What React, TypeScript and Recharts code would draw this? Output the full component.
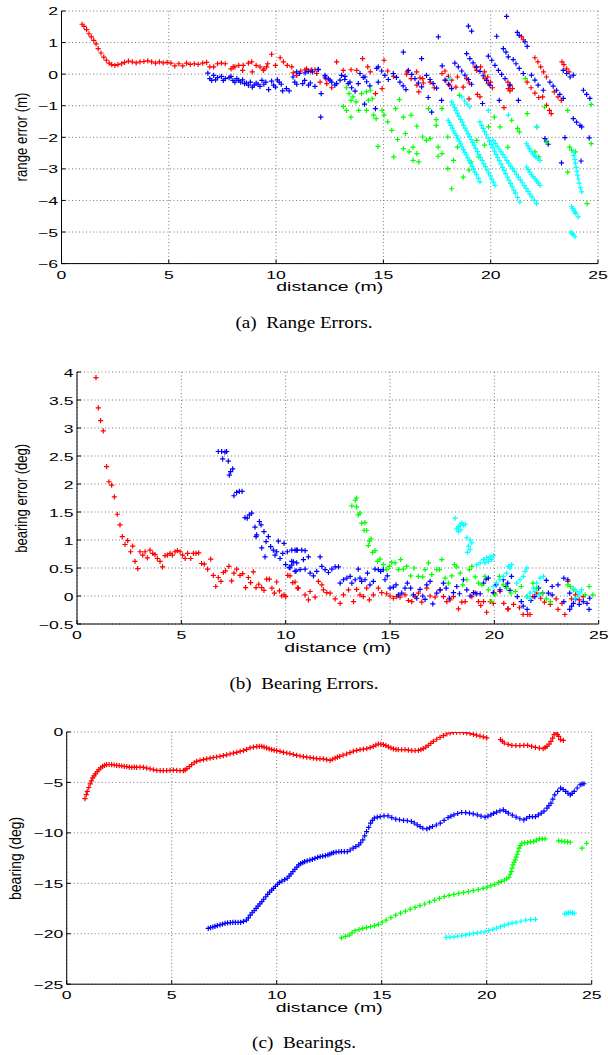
import React from "react";
import { CartesianGrid, Scatter, ScatterChart, XAxis, YAxis } from "recharts";

type Pt = [number, number];

// axis ticks
const distanceTicks = [0, 5, 10, 15, 20, 25];
const rangeTicks = [-6, -5, -4, -3, -2, -1, 0, 1, 2];
const bearingErrTicks = [-0.5, 0, 0.5, 1, 1.5, 2, 2.5, 3, 3.5, 4];
const bearingTicks = [-25, -20, -15, -10, -5, 0];

// (a) range error (m) vs distance (m)
const rangeRed: Pt[] = [
  [0.96, 1.58], [1.05, 1.51], [1.17, 1.41], [1.28, 1.28], [1.39, 1.18], [1.5, 1.07], [1.61, 0.96], [1.71, 0.81],
  [1.84, 0.67], [1.97, 0.54], [2.09, 0.44], [2.22, 0.35], [2.34, 0.3], [2.49, 0.28], [2.63, 0.3], [2.8, 0.33],
  [2.94, 0.37], [3.12, 0.41], [3.3, 0.39], [3.48, 0.36], [3.66, 0.39], [3.84, 0.4], [4.02, 0.42], [4.2, 0.39],
  [4.38, 0.35], [4.56, 0.39], [4.74, 0.36], [4.92, 0.37], [5.1, 0.35], [5.28, 0.26], [5.47, 0.33], [5.65, 0.26],
  [5.83, 0.35], [6.0, 0.31], [6.19, 0.33], [6.37, 0.31], [6.58, 0.35], [6.76, 0.37], [6.91, 0.23], [7.09, 0.23],
  [7.27, 0.33], [7.45, 0.35], [7.63, 0.33], [7.9, 0.17], [8.0, 0.23], [8.08, 0.23], [8.26, 0.28], [8.44, 0.12],
  [8.47, 0.28], [8.71, 0.35], [8.86, 0.39], [8.89, 0.07], [9.07, 0.28], [9.25, 0.23], [9.41, 0.12], [9.43, 0.17],
  [9.56, 0.23], [9.61, 0.33], [9.79, 0.63], [9.97, 0.28], [10.19, 0.52], [10.34, 0.39], [10.52, 0.28], [10.73, 0.23],
  [10.8, 0.04], [10.96, -0.04], [11.15, 0.1], [11.35, 0.14], [11.42, 0.17], [11.6, 0.1], [11.66, 0.14], [11.81, 0.14],
  [11.89, 0.02], [12.05, -0.25], [12.32, -0.14], [12.36, -0.3], [12.59, -0.43], [12.82, 0.39], [13.13, 0.12],
  [13.49, 0.14], [13.76, 0.12], [14.03, 0.49], [14.27, 0.23], [14.39, 0.07], [14.63, -0.62], [14.94, -0.46],
  [15.03, 0.44], [15.2, 0.1], [15.48, -0.07], [16.08, 0.0], [16.11, 0.07], [16.29, -0.14], [16.55, 0.07],
  [16.56, -0.35], [16.65, -0.56], [16.71, -0.12], [16.83, -0.14], [16.86, -0.28], [17.18, -0.25], [17.37, -0.43],
  [17.73, 0.02], [17.87, 0.1], [17.91, -0.2], [18.03, -0.07], [18.09, -0.35], [18.18, -0.19], [18.38, -0.41],
  [18.45, -0.09], [18.72, -0.41], [18.88, -0.14], [18.99, -0.78], [19.0, -0.28], [19.27, 0.23], [19.35, 0.12],
  [19.38, -0.64], [19.5, -0.72], [19.53, 0.23], [19.71, 0.07], [19.73, -0.14], [19.86, -0.09], [19.89, -0.3],
  [19.99, -0.25], [20.08, -0.43], [20.62, -1.06], [20.8, -0.25], [20.82, -0.46], [20.89, -0.35], [20.9, -0.53],
  [21.01, -0.46], [21.44, 1.18], [21.52, 1.09], [21.7, -0.25], [21.88, -0.43], [22.06, -0.6], [22.24, -0.74],
  [22.06, 0.52], [22.2, 0.39], [22.33, 0.23], [22.46, 0.07], [22.6, -0.09], [22.42, -0.72], [22.6, -0.99],
  [22.74, -1.15], [22.82, -1.25], [22.96, -0.56], [23.14, -0.72], [23.29, -0.83], [23.32, 0.39], [23.41, 0.3],
  [23.54, 0.17], [23.65, 0.07],
];

const rangeBlue: Pt[] = [
  [6.82, 0.03], [6.91, -0.14], [7.0, -0.2], [7.09, -0.04], [7.18, -0.18], [7.27, -0.11], [7.45, -0.07], [7.54, -0.2],
  [7.63, -0.14], [7.81, -0.11], [7.9, -0.07], [7.99, -0.2], [8.08, -0.25], [8.17, -0.14], [8.26, -0.2], [8.35, -0.25],
  [8.44, -0.18], [8.53, -0.3], [8.62, -0.28], [8.71, -0.35], [8.8, -0.25], [8.89, -0.41], [8.98, -0.35], [9.07, -0.28],
  [9.16, -0.32], [9.25, -0.39], [9.34, -0.2], [9.43, -0.32], [9.52, -0.25], [9.65, -0.49], [9.79, -0.22],
  [9.88, -0.35], [9.97, -0.41], [10.06, -0.18], [10.15, -0.25], [10.24, -0.32], [10.3, -0.53], [10.48, -0.46],
  [10.61, -0.53], [10.79, -0.09], [10.87, -0.25], [10.96, 0.07], [10.96, -0.32], [11.09, 0.02], [11.24, -0.3],
  [11.33, -0.2], [11.35, 0.04], [11.5, 0.09], [11.51, -0.35], [11.6, -0.28], [11.69, 0.07], [11.81, -0.39],
  [11.96, 0.14], [11.97, 0.15], [12.1, -0.62], [12.08, -1.36], [12.28, -0.04], [12.28, -0.09], [12.44, -0.15],
  [12.51, -0.19], [12.59, -0.25], [12.74, -0.35], [12.82, -0.3], [12.98, -0.19], [13.05, -0.04], [13.2, -0.17],
  [13.21, -0.07], [13.36, -0.3], [13.44, -0.25], [13.52, -0.43], [13.68, -0.54], [13.83, -0.3], [13.91, 0.02],
  [14.06, -0.1], [14.12, -0.95], [14.14, -0.09], [14.22, -0.24], [14.37, -0.37], [14.63, -1.09], [14.69, 0.18],
  [14.76, 0.23], [14.76, -0.25], [14.92, 0.1], [15.07, -0.04], [15.23, -0.17], [15.46, 0.02], [15.61, -0.1],
  [15.77, -0.25], [15.92, -0.37], [15.93, 0.7], [16.05, -0.49], [16.16, 0.12], [16.32, -0.01], [16.47, -0.14],
  [16.63, -0.28], [16.78, -0.4], [16.78, 0.49], [17.01, -0.04], [17.09, -0.74], [17.17, -0.17], [17.25, -1.2],
  [17.32, -0.3], [17.48, -0.44], [17.56, 1.18], [17.71, -0.83], [17.74, 0.26], [17.87, -0.19], [18.03, -0.32],
  [18.18, -0.46], [18.33, 0.35], [18.49, 0.23], [18.65, 0.1], [18.8, -0.03], [18.88, 0.65], [18.96, -0.17],
  [18.96, 1.52], [19.03, 0.49], [19.11, -0.32], [19.11, 1.36], [19.18, 0.36], [19.34, 0.22], [19.5, 0.09],
  [19.62, -0.93], [19.65, -0.05], [19.81, -0.2], [19.89, 0.57], [19.97, -0.35], [20.05, 0.44], [20.2, 0.28],
  [20.28, 1.2], [20.36, 0.12], [20.4, -0.83], [20.51, -0.01], [20.59, 0.81], [20.67, -0.14], [20.71, 0.7],
  [20.74, 1.83], [20.82, 0.55], [20.9, -0.35], [21.05, 0.46], [21.18, 0.33], [21.24, 1.32], [21.29, -0.83],
  [21.33, 0.18], [21.33, 1.23], [21.52, 0.02], [21.6, 1.02], [21.7, 0.88], [21.9, -0.03], [22.06, -0.19],
  [22.21, -0.35], [22.45, -0.51], [22.53, -2.04], [22.6, -2.13], [22.68, -2.22], [22.76, -0.25], [22.91, -0.38],
  [23.07, -0.51], [23.22, -0.64], [23.3, -2.81], [23.38, -0.77], [23.38, 0.12], [23.46, -2.01], [23.54, 0.02],
  [23.7, -0.09], [23.85, -0.03], [23.85, -1.41], [24.0, -1.52], [24.16, -1.62], [24.21, -2.75], [24.24, -1.67],
  [24.32, -0.51], [24.47, -0.64], [24.59, -2.02], [24.62, -0.77],
];

const rangeGreen: Pt[] = [
  [13.28, -0.43], [13.4, -0.62], [13.49, -0.83], [13.58, -0.72], [13.13, -1.02], [13.28, -1.15], [13.49, -1.36],
  [13.73, -0.88], [13.85, -1.15], [13.98, -0.62], [14.21, -0.56], [14.3, -0.83], [14.39, -0.51], [14.48, -0.78],
  [14.21, -1.15], [14.54, -1.3], [14.66, -1.41], [14.75, -2.29], [14.94, -1.15], [15.03, -1.3], [15.2, -1.51],
  [15.57, -1.09], [15.75, -0.81], [15.93, -1.36], [15.39, -1.78], [15.66, -2.07], [15.93, -2.36], [15.48, -2.62],
  [16.29, -1.3], [16.02, -1.88], [16.2, -2.46], [16.38, -2.31], [16.56, -2.52], [16.38, -2.73], [16.65, -2.78],
  [16.56, -1.65], [16.83, -1.99], [17.0, -2.1], [17.18, -2.04], [17.1, -1.09], [17.46, -1.44], [17.46, -1.62],
  [17.73, -1.09], [17.55, -2.31], [17.73, -2.52], [17.55, -2.6], [18.0, -1.99], [18.0, -2.99], [18.18, -3.63],
  [18.27, -2.73], [18.45, -2.31], [18.72, -3.26], [18.54, -0.67], [18.99, -3.04], [19.08, -2.78], [19.35, -2.1],
  [19.44, -2.62], [19.71, -2.25], [19.9, -1.67], [20.17, -1.36], [20.44, -1.67], [20.8, -2.31], [20.98, -1.46],
  [21.25, -1.72], [21.34, -1.83], [21.61, -0.14], [21.7, -1.25], [22.06, -2.46], [22.15, -1.67], [22.24, -2.62],
  [22.51, -1.04], [22.6, -2.15], [23.59, -1.15], [23.59, -3.1], [23.68, -2.31], [23.77, -2.41], [23.95, -2.46],
  [24.49, -4.1], [24.68, -0.96], [24.68, -2.2],
];

const rangeCyan: Pt[] = [
  [18.02, -1.46], [18.08, -1.54], [18.15, -1.62], [18.21, -1.71], [18.28, -1.8], [18.34, -1.88], [18.4, -1.95],
  [18.47, -2.04], [18.53, -2.12], [18.6, -2.21], [18.66, -2.3], [18.73, -2.39], [18.8, -2.48], [18.86, -2.56],
  [18.93, -2.65], [19.0, -2.74], [19.06, -2.83], [19.13, -2.92], [19.2, -3.01], [19.26, -3.1], [19.33, -3.18],
  [19.42, -3.3], [19.5, -3.41],
  [18.18, -0.88], [18.25, -0.97], [18.32, -1.06], [18.38, -1.15], [18.45, -1.24], [18.52, -1.33], [18.6, -1.43],
  [18.67, -1.52], [18.74, -1.62], [18.81, -1.71], [18.88, -1.8], [18.95, -1.89], [19.02, -1.98], [19.09, -2.07],
  [19.16, -2.16], [19.23, -2.25], [19.3, -2.35], [19.38, -2.45], [19.45, -2.55], [19.52, -2.64], [19.6, -2.74],
  [19.68, -2.84], [19.75, -2.93], [19.82, -3.03], [19.9, -3.13], [19.98, -3.22], [20.05, -3.32], [20.12, -3.42],
  [20.2, -3.52],
  [18.65, -0.72], [18.78, -0.85], [18.9, -0.95], [19.03, -1.04], [18.09, -0.14],
  [19.5, -1.51], [19.58, -1.62], [19.65, -1.72], [19.72, -1.82], [19.8, -1.92], [19.88, -2.03], [19.95, -2.13],
  [20.02, -2.23], [20.1, -2.33], [20.18, -2.44], [20.25, -2.54], [20.32, -2.64], [20.4, -2.74], [20.48, -2.85],
  [20.55, -2.95], [20.62, -3.05], [20.7, -3.15], [20.78, -3.26], [20.85, -3.36], [20.92, -3.46], [21.0, -3.56],
  [21.08, -3.67], [21.15, -3.77], [21.25, -3.9], [21.36, -4.05],
  [20.12, -2.1], [20.21, -2.19], [20.3, -2.28], [20.39, -2.37], [20.48, -2.46], [20.57, -2.55], [20.66, -2.64],
  [20.75, -2.73], [20.84, -2.82], [20.93, -2.91], [21.02, -3.0], [21.11, -3.08], [21.2, -3.17], [21.29, -3.26],
  [21.38, -3.35], [21.47, -3.44], [21.56, -3.53], [21.65, -3.62], [21.74, -3.71], [21.83, -3.8], [21.92, -3.89],
  [22.03, -4.0], [22.14, -4.1],
  [19.89, -1.15], [20.82, -1.3], [22.14, -1.67],
  [21.67, -2.2], [21.74, -2.28], [21.8, -2.36], [21.88, -2.44], [21.95, -2.52], [22.03, -2.57], [22.1, -2.62],
  [22.2, -2.68], [22.3, -2.73],
  [21.67, -2.94], [21.75, -3.02], [21.82, -3.1], [21.9, -3.18], [21.98, -3.25], [22.06, -3.31], [22.14, -3.38],
  [22.22, -3.45], [22.3, -3.52],
  [23.85, -2.46], [23.88, -2.58], [23.92, -2.7], [23.95, -2.82], [23.98, -2.95], [24.02, -3.08], [24.05, -3.2],
  [24.08, -3.32], [24.12, -3.45], [24.18, -3.6], [24.24, -3.73],
  [23.77, -4.2], [23.83, -4.26], [23.88, -4.32], [23.93, -4.37], [23.97, -4.42], [24.08, -4.52],
  [23.74, -5.0], [23.79, -5.04], [23.84, -5.08], [23.93, -5.15],
];

// (b) bearing error (deg) vs distance (m)
const bearErrRed: Pt[] = [
  [0.91, 3.9], [1.02, 3.36], [1.13, 3.13], [1.26, 2.95], [1.42, 2.31], [1.53, 2.04], [1.66, 1.98], [1.79, 1.77],
  [1.93, 1.46], [2.06, 1.27], [2.17, 1.06], [2.3, 0.92], [2.43, 0.99], [2.57, 0.79], [2.67, 0.89], [2.78, 0.62],
  [2.91, 0.49], [3.02, 0.79], [3.15, 0.73], [3.26, 0.79], [3.37, 0.68], [3.5, 0.82], [3.63, 0.76], [3.74, 0.74],
  [3.85, 0.67], [3.98, 0.62], [4.1, 0.52], [4.22, 0.72], [4.33, 0.73], [4.46, 0.76], [4.57, 0.73], [4.7, 0.79],
  [4.81, 0.81], [4.94, 0.79], [5.06, 0.73], [5.18, 0.67], [5.3, 0.76], [5.45, 0.67], [5.58, 0.76], [5.7, 0.76],
  [5.83, 0.77], [5.97, 0.58], [6.1, 0.57], [6.26, 0.48], [6.41, 0.66], [6.53, 0.37], [6.65, 0.17], [6.77, 0.33],
  [6.9, 0.26], [7.01, 0.42], [7.12, 0.45], [7.28, 0.53], [7.41, 0.27], [7.52, 0.41], [7.65, 0.48], [7.81, 0.37],
  [7.94, 0.4], [8.08, 0.15], [8.21, 0.33], [8.32, 0.24], [8.45, 0.43], [8.58, 0.15], [8.71, 0.21], [8.85, 0.15],
  [8.96, 0.1], [9.09, 0.3], [9.22, 0.3], [9.34, 0.14], [9.46, 0.05], [9.57, 0.25], [9.7, 0.09], [9.81, 0.0],
  [9.92, 0.02], [10.0, -0.01], [10.1, 0.37], [10.21, 0.36], [10.34, 0.24], [10.45, 0.25], [10.56, 0.14],
  [10.61, 0.14], [10.93, 0.02], [11.09, -0.07], [11.17, 0.08], [11.41, -0.02], [11.57, 0.26], [11.73, 0.2],
  [11.81, 0.11], [11.97, 0.06], [12.13, 0.05], [12.37, -0.05], [12.61, -0.13], [12.77, 0.02], [13.01, 0.11],
  [13.25, -0.1], [13.4, 0.12], [13.56, 0.02], [13.72, -0.01], [13.88, 0.14], [14.01, -0.07], [14.2, 0.02],
  [14.44, 0.14], [14.6, 0.06], [14.84, 0.04], [15.0, 0.0], [15.16, -0.04], [15.32, -0.01], [15.48, -0.02],
  [15.72, 0.02], [15.88, -0.08], [16.04, -0.1], [16.2, -0.01], [16.36, 0.05], [16.52, -0.11], [16.76, 0.14],
  [16.92, 0.0], [17.16, -0.02], [17.4, 0.11], [17.56, -0.01], [17.72, -0.1], [17.88, -0.07], [18.04, -0.01],
  [18.28, -0.23], [18.44, -0.11], [18.6, -0.1], [18.92, -0.01], [19.08, 0.05], [19.24, -0.1], [19.35, -0.17],
  [19.48, -0.1], [19.63, -0.29], [19.8, -0.1], [19.95, -0.13], [19.99, 0.05], [20.27, 0.08], [20.45, -0.13],
  [20.64, -0.23], [20.67, -0.23], [20.92, -0.15], [21.2, -0.21], [21.38, -0.33], [21.6, -0.33], [21.71, -0.33],
  [21.85, -0.01], [22.03, 0.05], [22.22, -0.04], [22.4, -0.11], [22.68, -0.15], [22.96, -0.05], [23.05, -0.24],
  [23.24, -0.13], [23.38, -0.33], [23.52, 0.26], [23.7, -0.05], [23.89, 0.02], [24.07, -0.07], [24.26, -0.01],
];

const bearErrBlue: Pt[] = [
  [6.77, 2.58], [6.93, 2.58], [7.09, 2.57], [7.17, 2.58], [6.98, 2.45], [7.25, 2.41], [7.36, 2.22], [7.46, 2.27],
  [7.3, 2.16], [7.52, 1.79], [7.65, 1.85], [7.78, 1.87], [7.91, 1.87], [8.05, 1.4], [8.16, 1.39], [8.26, 1.45],
  [8.37, 1.48], [8.53, 1.23], [8.61, 1.09], [8.74, 1.33], [8.82, 1.27], [8.58, 1.06], [8.85, 0.86], [8.96, 1.15],
  [9.06, 0.97], [9.01, 0.7], [9.17, 1.06], [9.28, 0.88], [9.41, 0.82], [9.49, 0.73], [9.57, 0.79], [9.65, 0.98],
  [9.73, 0.67], [9.86, 0.76], [9.92, 0.94], [10.0, 0.56], [10.08, 0.79], [10.17, 0.51], [10.29, 0.55],
  [10.37, 0.61], [10.5, 0.45], [10.56, 0.82], [10.45, 0.82], [10.29, 0.82], [10.53, 0.82], [10.77, 0.82],
  [10.93, 0.81], [10.29, 0.62], [10.53, 0.59], [10.85, 0.65], [11.09, 0.7], [10.21, 0.5], [10.45, 0.44],
  [10.69, 0.47], [10.93, 0.48], [11.17, 0.41], [11.33, 0.36], [11.49, 0.44], [11.65, 0.7], [11.73, 0.53],
  [11.89, 0.47], [12.05, 0.42], [12.21, 0.48], [12.37, 0.52], [12.53, 0.52], [12.61, 0.23], [12.77, 0.29],
  [12.93, 0.32], [13.09, 0.35], [13.17, 0.23], [13.33, 0.29], [13.48, 0.48], [13.56, 0.32], [13.64, 0.26],
  [13.8, 0.29], [13.92, 0.41], [14.04, 0.2], [14.2, 0.26], [14.28, 0.48], [14.44, 0.47], [14.55, 0.44],
  [14.68, 0.47], [14.76, 0.29], [14.87, 0.36], [15.0, 0.14], [15.16, 0.16], [15.29, 0.2], [15.4, 0.02],
  [15.56, 0.05], [15.72, 0.14], [15.83, 0.23], [15.99, 0.14], [16.12, 0.02], [16.28, -0.04], [16.44, 0.12],
  [16.57, 0.0], [16.68, -0.06], [16.76, 0.2], [16.92, 0.26], [17.05, -0.14], [17.24, 0.05], [17.4, 0.11],
  [17.56, 0.23], [17.69, 0.14], [17.85, -0.04], [18.04, 0.06], [18.2, 0.17], [18.33, 0.04], [18.52, 0.29],
  [18.68, 0.11], [18.84, 0.0], [19.0, 0.06], [19.16, 0.04], [19.32, 0.04], [19.48, 0.23], [19.6, 0.3],
  [19.71, 0.32], [19.95, 0.06], [20.08, 0.2], [20.27, 0.11], [20.43, 0.29], [20.56, 0.17], [20.75, 0.1],
  [20.64, 0.23], [20.82, 0.35], [21.1, -0.01], [21.29, -0.1], [21.38, -0.18], [21.57, -0.24], [21.75, -0.08],
  [21.94, -0.01], [22.12, 0.14], [22.31, 0.05], [22.49, 0.28], [22.59, 0.05], [22.77, 0.17], [22.77, 0.02],
  [23.05, 0.2], [23.33, 0.32], [23.33, -0.1], [23.52, 0.29], [23.61, 0.05], [23.61, -0.24], [23.7, -0.18],
  [23.79, -0.13], [23.89, -0.05], [24.07, -0.15], [24.26, -0.1], [24.44, -0.13], [24.54, -0.24], [24.57, -0.04],
];

const bearErrGreen: Pt[] = [
  [13.17, 1.61], [13.33, 1.71], [13.4, 1.75], [13.4, 1.59], [13.48, 1.45], [13.56, 1.48], [13.64, 1.3],
  [13.8, 1.31], [13.76, 1.17], [13.88, 1.17], [14.01, 0.98], [14.09, 1.02], [13.96, 0.9], [14.17, 0.78],
  [14.28, 0.81], [14.4, 0.62], [14.52, 0.66], [14.68, 0.56], [14.84, 0.47], [14.97, 0.53], [15.08, 0.6],
  [15.24, 0.59], [15.4, 0.47], [15.51, 0.65], [15.64, 0.48], [15.8, 0.53], [15.99, 0.36], [16.15, 0.5],
  [16.36, 0.35], [16.57, 0.34], [16.68, 0.47], [16.84, 0.59], [17.0, 0.38], [17.24, 0.47], [17.37, 0.47],
  [17.48, 0.65], [17.64, 0.32], [17.8, 0.23], [17.96, 0.36], [18.09, 0.56], [18.2, 0.52], [18.36, 0.41],
  [18.49, 0.2], [18.68, 0.29], [18.8, 0.47], [18.92, 0.53], [19.08, 0.34], [19.24, 0.23], [19.4, 0.2],
  [19.55, 0.35], [19.71, 0.11], [19.87, -0.1], [20.03, 0.02], [20.24, 0.35], [20.43, 0.2], [20.59, 0.14],
  [20.79, 0.05], [21.01, 0.08], [21.29, 0.17], [21.57, -0.01], [21.85, 0.23], [22.03, 0.14], [22.31, 0.05],
  [22.49, -0.05], [22.68, -0.1], [23.52, 0.2], [23.64, 0.17], [23.79, 0.11], [24.35, 0.02], [24.54, 0.17],
  [24.72, 0.02],
];

const bearErrCyan: Pt[] = [
  [18.12, 1.39], [18.2, 1.2], [18.28, 1.24], [18.36, 1.27], [18.44, 1.3], [18.52, 1.27], [18.6, 1.28],
  [18.28, 1.15], [18.39, 1.18], [18.68, 1.04], [18.84, 1.0], [18.92, 0.95], [18.76, 0.89], [18.84, 0.83],
  [18.71, 0.78], [19.16, 0.56], [19.32, 0.59], [19.48, 0.65], [19.63, 0.68], [19.79, 0.7], [19.95, 0.72],
  [19.87, 0.65], [19.71, 0.62], [19.55, 0.59], [20.11, 0.23], [20.27, 0.29], [20.43, 0.35], [20.59, 0.41],
  [20.75, 0.5], [20.83, 0.56], [19.95, 0.17], [20.67, 0.53], [21.07, 0.23], [21.23, 0.29], [21.39, 0.35],
  [21.47, 0.44], [21.55, 0.5], [21.55, -0.01], [21.71, -0.04], [21.71, 0.05], [21.87, 0.14], [22.03, 0.23],
  [22.19, 0.32], [22.35, 0.35], [21.95, 0.08], [22.15, 0.02], [23.79, 0.14], [23.95, 0.08], [24.1, 0.05],
  [24.02, 0.0], [23.87, -0.04], [24.18, 0.11],
];

// (c) bearing (deg) vs distance (m)
const bearingRed: Pt[] = [
  [0.87, -6.6], [0.93, -6.2], [0.98, -5.88], [1.05, -5.5], [1.12, -5.15], [1.18, -4.85], [1.24, -4.55],
  [1.3, -4.35], [1.37, -4.16], [1.45, -3.93], [1.53, -3.73], [1.62, -3.55], [1.71, -3.4], [1.8, -3.3],
  [1.9, -3.24], [2.02, -3.22], [2.14, -3.24], [2.26, -3.27], [2.38, -3.3], [2.5, -3.34], [2.62, -3.37],
  [2.74, -3.41], [2.86, -3.44], [2.98, -3.48], [3.1, -3.5], [3.22, -3.49], [3.33, -3.5], [3.49, -3.49],
  [3.65, -3.5], [3.81, -3.58], [3.97, -3.66], [4.13, -3.74], [4.29, -3.8], [4.45, -3.82], [4.6, -3.83],
  [4.76, -3.82], [4.92, -3.8], [5.08, -3.78], [5.24, -3.8], [5.4, -3.83], [5.56, -3.83], [5.64, -3.75],
  [5.72, -3.63], [5.84, -3.43], [5.95, -3.24], [6.07, -3.05], [6.19, -2.91], [6.35, -2.82], [6.51, -2.74],
  [6.67, -2.66], [6.83, -2.58], [6.98, -2.53], [7.14, -2.48], [7.3, -2.41], [7.46, -2.34], [7.62, -2.26],
  [7.78, -2.18], [7.94, -2.1], [8.1, -2.01], [8.26, -1.93], [8.41, -1.85], [8.57, -1.72], [8.73, -1.58],
  [8.89, -1.5], [9.05, -1.45], [9.17, -1.42], [9.29, -1.42], [9.4, -1.5], [9.52, -1.58], [9.64, -1.67],
  [9.76, -1.75], [9.88, -1.8], [10.0, -1.85], [10.16, -1.93], [10.32, -2.01], [10.48, -2.08], [10.63, -2.15],
  [10.79, -2.23], [10.95, -2.31], [11.11, -2.38], [11.27, -2.44], [11.43, -2.49], [11.59, -2.54], [11.75, -2.59],
  [11.9, -2.64], [12.06, -2.66], [12.22, -2.67], [12.38, -2.74], [12.54, -2.81], [12.66, -2.7], [12.78, -2.58],
  [12.89, -2.5], [13.0, -2.41], [13.16, -2.3], [13.33, -2.18], [13.49, -2.04], [13.65, -1.91], [13.81, -1.83],
  [13.97, -1.75], [14.13, -1.7], [14.29, -1.65], [14.45, -1.54], [14.6, -1.42], [14.72, -1.3], [14.84, -1.19],
  [14.96, -1.2], [15.08, -1.25], [15.2, -1.36], [15.32, -1.48], [15.44, -1.58], [15.56, -1.68], [15.68, -1.72],
  [15.79, -1.75], [15.95, -1.76], [16.11, -1.75], [16.27, -1.8], [16.43, -1.85], [16.59, -1.85], [16.75, -1.82],
  [16.87, -1.75], [16.98, -1.65], [17.1, -1.5], [17.22, -1.32], [17.34, -1.12], [17.46, -0.92], [17.62, -0.72],
  [17.78, -0.53], [17.94, -0.35], [18.1, -0.2], [18.26, -0.1], [18.41, -0.05], [18.57, -0.02], [18.73, -0.01],
  [18.89, -0.03], [19.05, -0.08], [19.21, -0.15], [19.37, -0.24], [19.52, -0.32], [19.68, -0.4], [19.84, -0.48],
  [20.0, -0.58], [20.66, -0.76], [20.75, -0.92], [20.84, -1.09], [21.02, -1.22], [21.2, -1.32], [21.39, -1.35],
  [21.58, -1.36], [21.77, -1.33], [21.95, -1.32], [22.14, -1.42], [22.32, -1.52], [22.51, -1.6], [22.69, -1.66],
  [22.78, -1.55], [22.87, -1.42], [22.97, -1.2], [23.06, -0.93], [23.14, -0.6], [23.21, -0.26], [23.3, -0.1],
  [23.37, -0.25], [23.43, -0.43], [23.52, -0.76], [23.65, -0.83],
];

const bearingBlue: Pt[] = [
  [6.74, -19.47], [6.85, -19.4], [6.96, -19.33], [7.06, -19.27], [7.17, -19.2], [7.3, -19.12], [7.42, -19.04],
  [7.54, -18.97], [7.66, -18.93], [7.79, -18.9], [7.91, -18.87], [8.03, -18.87], [8.16, -18.88], [8.28, -18.87],
  [8.42, -18.78], [8.56, -18.64], [8.65, -18.42], [8.74, -18.15], [8.83, -17.92], [8.93, -17.7], [9.02, -17.48],
  [9.11, -17.26], [9.2, -17.04], [9.29, -16.82], [9.38, -16.58], [9.48, -16.33], [9.57, -16.09], [9.66, -15.88],
  [9.76, -15.68], [9.85, -15.5], [9.94, -15.3], [10.04, -15.1], [10.13, -14.9], [10.25, -14.78], [10.38, -14.64],
  [10.5, -14.5], [10.59, -14.28], [10.68, -14.06], [10.77, -13.84], [10.86, -13.62], [10.96, -13.4], [11.05, -13.18],
  [11.14, -13.05], [11.24, -12.95], [11.33, -12.85], [11.45, -12.77], [11.58, -12.7], [11.7, -12.62], [11.82, -12.52],
  [11.95, -12.43], [12.07, -12.35], [12.19, -12.3], [12.32, -12.25], [12.44, -12.19], [12.53, -12.1], [12.62, -12.02],
  [12.71, -11.95], [12.83, -11.9], [12.96, -11.87], [13.08, -11.85], [13.22, -11.86], [13.36, -11.85], [13.5, -11.7],
  [13.64, -11.52], [13.77, -11.36], [13.91, -11.19], [14.0, -10.98], [14.1, -10.7], [14.19, -10.3], [14.28, -9.87],
  [14.38, -9.45], [14.47, -9.04], [14.56, -8.76], [14.65, -8.54], [14.79, -8.44], [14.93, -8.38], [15.11, -8.32],
  [15.3, -8.31], [15.48, -8.48], [15.67, -8.64], [15.85, -8.7], [16.04, -8.77], [16.22, -8.8], [16.41, -8.87],
  [16.55, -9.02], [16.69, -9.21], [16.83, -9.38], [16.96, -9.54], [17.15, -9.6], [17.28, -9.5], [17.42, -9.37],
  [17.6, -9.22], [17.79, -9.04], [17.97, -8.77], [18.16, -8.48], [18.3, -8.33], [18.44, -8.21], [18.62, -8.08],
  [18.81, -7.98], [19.0, -8.0], [19.18, -8.05], [19.36, -8.12], [19.55, -8.21], [19.73, -8.33], [19.92, -8.44],
  [20.06, -8.33], [20.2, -8.21], [20.33, -8.07], [20.47, -7.95], [20.63, -7.82], [20.79, -7.72], [20.91, -7.88],
  [21.03, -8.05], [21.22, -8.25], [21.4, -8.44], [21.58, -8.6], [21.77, -8.71], [21.9, -8.55], [22.04, -8.38],
  [22.18, -8.4], [22.32, -8.38], [22.46, -8.22], [22.6, -8.05], [22.73, -7.85], [22.87, -7.55], [22.96, -7.3],
  [23.06, -7.05], [23.15, -6.65], [23.24, -6.23], [23.38, -5.88], [23.52, -5.56], [23.64, -5.7], [23.76, -5.89],
  [23.87, -6.07], [23.98, -6.23], [24.07, -6.08], [24.17, -5.89], [24.31, -5.55], [24.45, -5.23], [24.54, -5.17],
  [24.63, -5.13],
];

const bearingGreen: Pt[] = [
  [13.08, -20.4], [13.27, -20.27], [13.45, -20.13], [13.59, -19.9], [13.73, -19.7], [13.92, -19.58], [14.1, -19.47],
  [14.28, -19.39], [14.47, -19.3], [14.66, -19.19], [14.84, -19.07], [15.03, -18.86], [15.21, -18.64], [15.44, -18.4],
  [15.67, -18.15], [15.9, -17.95], [16.13, -17.75], [16.36, -17.56], [16.59, -17.38], [16.82, -17.22], [17.05, -17.05],
  [17.28, -16.86], [17.52, -16.66], [17.75, -16.49], [17.98, -16.32], [18.21, -16.2], [18.44, -16.09], [18.67, -16.0],
  [18.9, -15.93], [19.13, -15.83], [19.36, -15.73], [19.6, -15.62], [19.83, -15.5], [20.02, -15.38], [20.2, -15.26],
  [20.38, -15.1], [20.57, -14.93], [20.7, -14.8], [20.84, -14.67], [20.95, -14.55], [21.06, -14.4], [21.12, -14.1],
  [21.17, -13.84], [21.21, -13.5], [21.25, -13.18], [21.3, -12.93], [21.36, -12.68], [21.4, -12.4], [21.45, -12.12],
  [21.5, -11.82], [21.54, -11.52], [21.6, -11.27], [21.67, -11.03], [21.81, -10.99], [21.95, -10.96], [22.09, -10.9],
  [22.23, -10.86], [22.37, -10.72], [22.51, -10.6], [22.65, -10.6], [22.78, -10.6], [23.43, -10.79], [23.57, -10.82],
  [23.71, -10.86], [23.85, -10.9], [23.98, -10.93], [24.54, -11.52], [24.76, -11.03],
];

const bearingCyan: Pt[] = [
  [18.07, -20.36], [18.25, -20.33], [18.44, -20.3], [18.62, -20.25], [18.81, -20.2], [19.0, -20.12], [19.18, -20.03],
  [19.37, -19.97], [19.55, -19.9], [19.73, -19.85], [19.92, -19.8], [20.1, -19.68], [20.29, -19.57], [20.47, -19.44],
  [20.66, -19.3], [20.84, -19.17], [21.03, -19.04], [21.21, -18.95], [21.4, -18.87], [21.63, -18.76], [21.86, -18.64],
  [22.09, -18.6], [22.32, -18.58], [23.72, -18.02], [23.8, -17.98], [23.89, -17.92], [23.98, -17.88], [24.08, -17.93],
  [24.17, -17.98],
];

const RED = "#ff0000";
const BLUE = "#0000ff";
const GREEN = "#00ff00";
const CYAN = "#00ffff";
const SANS = "'Liberation Sans', Arial, Helvetica, sans-serif";
const SERIF = "'Liberation Serif', 'Times New Roman', serif";
const STRETCH = 1.6;

type Geo = { left: number; right: number; top: number; bottom: number };
const geoA: Geo = { left: 61.5, right: 598, top: 10.7, bottom: 263.3 };
const geoB: Geo = { left: 77, right: 598.7, top: 372.3, bottom: 624.3 };
const geoC: Geo = { left: 66.7, right: 591.7, top: 732.3, bottom: 984.5 };

const fmt = (v: number) => String(v).replace("-", "\u2212");
const toXY = (pts: Pt[]) => pts.map(([x, y]) => ({ x, y }));

function plus(color: string) {
  return (props: any) => {
    const { cx, cy } = props;
    if (cx == null || cy == null) return <g />;
    return (
      <path
        d={`M${cx - 2.6},${cy}H${cx + 2.6}M${cx},${cy - 2.6}V${cy + 2.6}`}
        stroke={color}
        strokeWidth={1.2}
        fill="none"
      />
    );
  };
}

function XTick(props: any) {
  const { x, y, payload } = props;
  return (
    <g>
      <line x1={x} x2={x} y1={y} y2={y - 4} stroke="#000" />
      <text
        transform={`translate(${x},${y + 15}) scale(${STRETCH},1)`}
        textAnchor="middle"
        fontFamily={SANS}
        fontSize={11}
        fill="#000"
      >
        {fmt(payload.value)}
      </text>
    </g>
  );
}

function YTick(props: any) {
  const { x, y, payload } = props;
  return (
    <g>
      <line x1={x} x2={x + 4} y1={y} y2={y} stroke="#000" />
      <text
        transform={`translate(${x - 3.5},${y + 4.5}) scale(${STRETCH},1)`}
        textAnchor="end"
        fontFamily={SANS}
        fontSize={11}
        fill="#000"
      >
        {fmt(payload.value)}
      </text>
    </g>
  );
}

type Series = { data: Pt[]; color: string };

function Panel({ g, yDomain, yTicks, series }: { g: Geo; yDomain: [number, number]; yTicks: number[]; series: Series[] }) {
  const height = g.bottom - g.top + 52;
  return (
    <div style={{ position: "absolute", left: 0, top: g.top - 12, width: 608, height }}>
      <ScatterChart
        width={608}
        height={height}
        margin={{ top: 12, right: 608 - g.right, bottom: 10, left: g.left - 40 }}
      >
        <CartesianGrid stroke="#777" strokeDasharray="1 2.5" />
        <XAxis
          type="number"
          dataKey="x"
          domain={[0, 25]}
          ticks={distanceTicks}
          interval={0}
          height={30}
          tickSize={0}
          tickMargin={0}
          tickLine={false}
          axisLine={{ stroke: "#000" }}
          tick={XTick}
          allowDataOverflow
        />
        <YAxis
          type="number"
          dataKey="y"
          domain={yDomain}
          ticks={yTicks}
          interval={0}
          width={40}
          tickSize={0}
          tickMargin={0}
          tickLine={false}
          axisLine={{ stroke: "#000" }}
          tick={YTick}
          allowDataOverflow
        />
        {series.map((s, i) => (
          <Scatter key={i} data={toXY(s.data)} shape={plus(s.color)} isAnimationActive={false} />
        ))}
      </ScatterChart>
    </div>
  );
}

function XLabel({ g }: { g: Geo }) {
  return (
    <text
      x={(g.left + g.right) / 2}
      y={g.bottom + 27.2}
      textAnchor="middle"
      fontFamily={SANS}
      fontSize={13.5}
      textLength={107}
      lengthAdjust="spacingAndGlyphs"
    >
      distance (m)
    </text>
  );
}

function YLabel({ g, x, text, len }: { g: Geo; x: number; text: string; len: number }) {
  const cy = (g.top + g.bottom) / 2;
  return (
    <text
      transform={`translate(${x},${cy}) scale(1.25,1) rotate(-90)`}
      textAnchor="middle"
      fontFamily={SANS}
      fontSize={13.5}
      textLength={len}
      lengthAdjust="spacingAndGlyphs"
    >
      {text}
    </text>
  );
}

function Caption({ y, text, len }: { y: number; text: string; len: number }) {
  return (
    <text
      x={304}
      y={y}
      textAnchor="middle"
      fontFamily={SERIF}
      fontSize={16.5}
      textLength={len}
      lengthAdjust="spacingAndGlyphs"
    >
      {text}
    </text>
  );
}

export default function App() {
  return (
    <div style={{ position: "absolute", left: 0, top: 0, width: 608, height: 1055, background: "#fff", overflow: "hidden" }}>
      <Panel
        g={geoA}
        yDomain={[-6, 2]}
        yTicks={rangeTicks}
        series={[
          { data: rangeRed, color: RED },
          { data: rangeBlue, color: BLUE },
          { data: rangeGreen, color: GREEN },
          { data: rangeCyan, color: CYAN },
        ]}
      />
      <Panel
        g={geoB}
        yDomain={[-0.5, 4]}
        yTicks={bearingErrTicks}
        series={[
          { data: bearErrRed, color: RED },
          { data: bearErrBlue, color: BLUE },
          { data: bearErrGreen, color: GREEN },
          { data: bearErrCyan, color: CYAN },
        ]}
      />
      <Panel
        g={geoC}
        yDomain={[-25, 0]}
        yTicks={bearingTicks}
        series={[
          { data: bearingRed, color: RED },
          { data: bearingBlue, color: BLUE },
          { data: bearingGreen, color: GREEN },
          { data: bearingCyan, color: CYAN },
        ]}
      />
      <svg width={608} height={1055} style={{ position: "absolute", left: 0, top: 0, pointerEvents: "none" }}>
        <XLabel g={geoA} />
        <XLabel g={geoB} />
        <XLabel g={geoC} />
        <YLabel g={geoA} x={26.5} text="range error (m)" len={89} />
        <YLabel g={geoB} x={26.5} text="bearing error (deg)" len={109} />
        <YLabel g={geoC} x={21} text="bearing (deg)" len={83} />
        <Caption y={328} text={"(a)\u00a0\u00a0Range Errors."} len={137} />
        <Caption y={689} text={"(b)\u00a0\u00a0Bearing Errors."} len={149} />
        <Caption y={1048} text={"(c)\u00a0\u00a0Bearings."} len={104} />
      </svg>
    </div>
  );
}
